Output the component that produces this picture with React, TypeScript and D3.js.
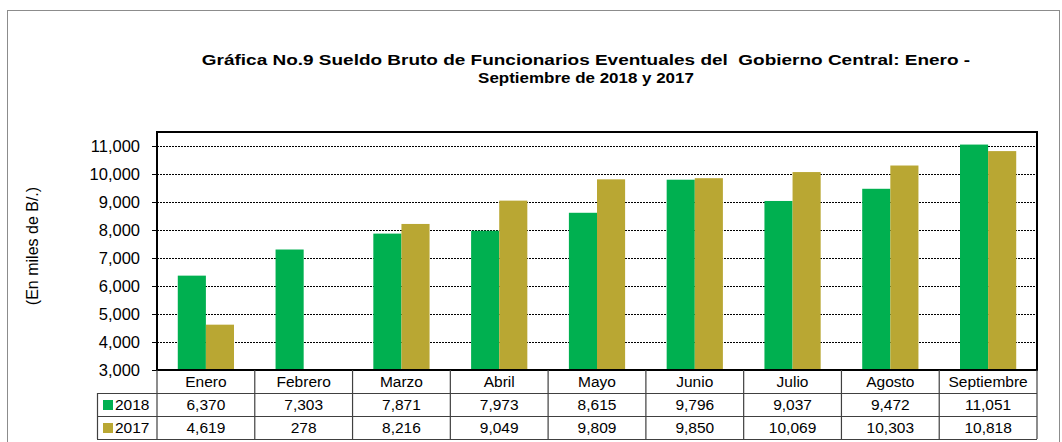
import React, { useEffect, useRef } from 'react';
import * as d3 from 'd3';

const categories = ['Enero', 'Febrero', 'Marzo', 'Abril', 'Mayo', 'Junio', 'Julio', 'Agosto', 'Septiembre'];
const values2018 = [6370, 7303, 7871, 7973, 8615, 9796, 9037, 9472, 11051];
const values2017 = [4619, 278, 8216, 9049, 9809, 9850, 10069, 10303, 10818];
const seriesNames = ['2018', '2017'];
const seriesColors = ['#00b050', '#b9a733'];
const yTicks = [3000, 4000, 5000, 6000, 7000, 8000, 9000, 10000, 11000];
const titleLines = [
  'Gráfica No.9 Sueldo Bruto de Funcionarios Eventuales del  Gobierno Central: Enero -',
  'Septiembre de 2018 y 2017',
];

const W = 1062;
const H = 442;
const FONT = '"Liberation Sans", Arial, sans-serif';

const App = () => {
  const svgRef = useRef<SVGSVGElement>(null);

  useEffect(() => {
    const svg = d3.select(svgRef.current);
    svg.selectAll('*').remove();

    const plot = { left: 157, right: 1037, top: 132, bottom: 370 };
    const rowH = 23;

    // outer frame
    svg.append('rect')
      .attr('x', 7.5).attr('y', 10.5)
      .attr('width', W - 10).attr('height', H)
      .attr('fill', '#fff').attr('stroke', '#8c8c8c').attr('stroke-width', 1);

    // title (the source chart is stretched sideways, so scale the glyphs)
    const titleWidths = [769, 216];
    titleLines.forEach((t, i) => {
      const g = svg.append('g').attr('transform', `translate(586,${65 + i * 18})`);
      const txt = g.append('text')
        .attr('text-anchor', 'middle')
        .attr('font-family', FONT).attr('font-size', 15).attr('font-weight', 'bold')
        .style('white-space', 'pre')
        .text(t);
      const len = (txt.node() as SVGTextElement).getComputedTextLength();
      if (len > 0) g.attr('transform', `translate(586,${65 + i * 18}) scale(${titleWidths[i] / len},1)`);
    });

    const y = d3.scaleLinear().domain([3000, 11500]).range([plot.bottom, plot.top]);
    const x0 = d3.scaleBand().domain(categories).range([plot.left, plot.right]);
    const groupW = x0.bandwidth() * 0.575;
    const x1 = d3.scaleBand().domain(seriesNames).range([0, groupW]);

    // gridlines
    svg.append('g').selectAll('line')
      .data(yTicks.slice(1))
      .enter().append('line')
      .attr('x1', plot.left).attr('x2', plot.right)
      .attr('y1', d => Math.round(y(d)) + 0.5).attr('y2', d => Math.round(y(d)) + 0.5)
      .attr('stroke', '#000').attr('stroke-width', 1).attr('stroke-dasharray', '2,1');

    // bars
    const seriesData = [values2018, values2017];
    const bars = svg.append('g');
    categories.forEach((c, i) => {
      const gx = (x0(c) as number) + (x0.bandwidth() - groupW) / 2;
      seriesNames.forEach((s, k) => {
        const v = seriesData[k][i];
        if (v <= 3000) return;
        bars.append('rect')
          .attr('x', gx + (x1(s) as number))
          .attr('y', y(v))
          .attr('width', x1.bandwidth())
          .attr('height', y(3000) - y(v))
          .attr('fill', seriesColors[k]);
      });
    });

    // plot frame
    svg.append('rect')
      .attr('x', plot.left).attr('y', plot.top)
      .attr('width', plot.right - plot.left).attr('height', plot.bottom - plot.top)
      .attr('fill', 'none').attr('stroke', '#000').attr('stroke-width', 2);

    // y axis
    const yAxis = svg.append('g')
      .attr('transform', `translate(${plot.left},0)`)
      .call(d3.axisLeft(y).tickValues(yTicks).tickFormat(d3.format(',')).tickSize(5).tickPadding(12));
    yAxis.select('.domain').remove();
    yAxis.selectAll('line').attr('stroke', '#000');
    yAxis.selectAll('text')
      .attr('font-family', FONT).attr('font-size', 16.5).attr('fill', '#000');

    // y axis title
    svg.append('text')
      .attr('transform', `translate(38,246) rotate(-90)`)
      .attr('text-anchor', 'middle')
      .attr('font-family', FONT).attr('font-size', 16)
      .text('(En miles de B/.)');

    // data table
    const table = svg.append('g');
    const legendLeft = 97;
    const rowsY = [plot.bottom, plot.bottom + rowH, plot.bottom + rowH * 2, plot.bottom + rowH * 3];
    const lineStroke = '#404040';

    [rowsY[1], rowsY[2], rowsY[3]].forEach(yy => {
      table.append('line')
        .attr('x1', legendLeft).attr('x2', plot.right)
        .attr('y1', yy + 0.5).attr('y2', yy + 0.5)
        .attr('stroke', lineStroke).attr('stroke-width', 1.2);
    });
    const vx = categories.map(c => x0(c) as number).concat([plot.right]);
    vx.forEach(xx => {
      table.append('line')
        .attr('x1', xx).attr('x2', xx)
        .attr('y1', rowsY[0]).attr('y2', rowsY[3])
        .attr('stroke', lineStroke).attr('stroke-width', 1.2);
    });
    table.append('line')
      .attr('x1', legendLeft + 0.5).attr('x2', legendLeft + 0.5)
      .attr('y1', rowsY[1]).attr('y2', rowsY[3])
      .attr('stroke', lineStroke).attr('stroke-width', 1.2);

    // category labels
    categories.forEach(c => {
      table.append('text')
        .attr('x', (x0(c) as number) + x0.bandwidth() / 2)
        .attr('y', rowsY[0] + 17)
        .attr('text-anchor', 'middle')
        .attr('font-family', FONT).attr('font-size', 15.5)
        .text(c);
    });

    // series rows
    seriesNames.forEach((s, k) => {
      const ry = rowsY[k + 1];
      table.append('rect')
        .attr('x', legendLeft + 6).attr('y', ry + 7)
        .attr('width', 10).attr('height', 10)
        .attr('fill', seriesColors[k]);
      table.append('text')
        .attr('x', legendLeft + 18).attr('y', ry + 17)
        .attr('font-family', FONT).attr('font-size', 15.5)
        .text(s);
      categories.forEach((c, i) => {
        table.append('text')
          .attr('x', (x0(c) as number) + x0.bandwidth() / 2)
          .attr('y', ry + 17)
          .attr('text-anchor', 'middle')
          .attr('font-family', FONT).attr('font-size', 15.5)
          .text(d3.format(',')(seriesData[k][i]));
      });
    });
  }, []);

  return (
    <div>
      <svg ref={svgRef} width={W} height={H}
        style={{ position: 'absolute', left: 0, top: 0, background: '#fff' }} />
    </div>
  );
};

export default App;
